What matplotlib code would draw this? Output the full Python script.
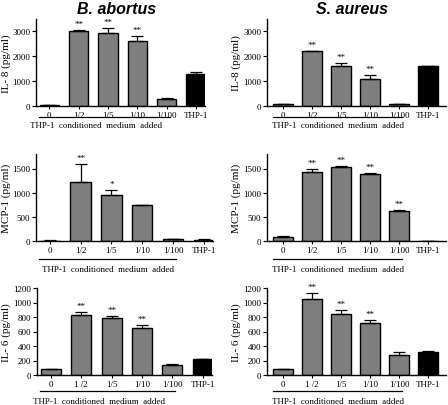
import matplotlib
matplotlib.use("Agg")
import matplotlib.pyplot as plt
import numpy as np

plt.rcParams['font.family'] = ['Liberation Serif', 'DejaVu Serif']

categories = ["0", "1/2", "1/5", "1/10", "1/100", "THP-1"]
cat_bottom = ["0", "1 /2", "1/5", "1/10", "1/100", "THP-1"]

# B. abortus
ba_il8 = [50, 3000, 2920, 2620, 290, 1300]
ba_il8_err = [10, 70, 220, 200, 50, 80]
ba_il8_sig = ["", "**", "**", "**", "", ""]

ba_mcp1 = [10, 1230, 950, 740, 40, 30]
ba_mcp1_err = [5, 370, 110, 10, 5, 5]
ba_mcp1_sig = ["", "**", "*", "", "", ""]

ba_il6 = [80, 830, 790, 645, 140, 220]
ba_il6_err = [5, 45, 30, 40, 5, 5]
ba_il6_sig = ["", "**", "**", "**", "", ""]

# S. aureus
sa_il8 = [70, 2200, 1620, 1100, 80, 1600]
sa_il8_err = [10, 20, 100, 150, 10, 20]
sa_il8_sig = ["", "**", "**", "**", "", ""]

sa_mcp1 = [80, 1430, 1540, 1390, 630, 0]
sa_mcp1_err = [20, 50, 10, 20, 10, 0]
sa_mcp1_sig = ["", "**", "**", "**", "**", ""]

sa_il6 = [80, 1050, 840, 720, 270, 320]
sa_il6_err = [5, 80, 60, 35, 50, 5]
sa_il6_sig = ["", "**", "**", "**", "", ""]

W, H = 448, 406
fig = plt.figure(figsize=(W / 100, H / 100), dpi=100)


def rect(l, t, r, b):
    return [l / W, 1 - b / H, (r - l) / W, (b - t) / H]


def panel(r, vals, errs, sigs, ylabel, ylim, yticks, xlim, labels, offs, mid_x, label_x):
    ax = fig.add_axes(rect(*r))
    x = np.arange(len(vals))
    colors = ["#7f7f7f"] * 5 + ["black"]
    ax.bar(x, vals, width=0.66, color=colors, edgecolor="black", linewidth=1.0, zorder=2)
    lower = np.zeros(len(errs))
    ax.errorbar(x, vals, yerr=[lower, errs], fmt="none", ecolor="black",
                elinewidth=0.9, capsize=4, capthick=0.9, zorder=3)
    for xi, v, e, s in zip(x, vals, errs, sigs):
        if s:
            ax.annotate(s, (xi, v + e), xytext=(0, 1.5), textcoords="offset points",
                        ha="center", va="bottom", fontsize=6.5)
    ax.set_xlim(*xlim)
    ax.set_ylim(*ylim)
    ax.set_yticks(yticks)
    ax.set_xticks(x)
    ax.set_xticklabels(labels, fontsize=6.5)
    ax.tick_params(axis="y", labelsize=6.5, length=3, width=0.8, pad=1)
    ax.tick_params(axis="x", length=2.5, width=0.8, pad=1)
    for s in ["top", "right"]:
        ax.spines[s].set_visible(False)
    for s in ["left", "bottom"]:
        ax.spines[s].set_linewidth(1.0)
    ax.set_ylabel(ylabel, fontsize=8)
    wpx = r[2] - r[0]
    ax.yaxis.set_label_coords((label_x - r[0]) / wpx, 0.5)
    hpx = r[3] - r[1]
    trans = matplotlib.transforms.blended_transform_factory(ax.transData, ax.transAxes)
    ax.plot([-0.35, 4.1], [-offs[0] / hpx] * 2, color="black", lw=0.9,
            transform=trans, clip_on=False)
    ax.text(mid_x, -offs[1] / hpx, "THP-1  conditioned  medium  added", transform=trans,
            ha="center", va="center", fontsize=6.5)
    return ax


xl_left = (-0.45, 5.3)
xl_right = (-0.55, 5.62)

panel((36, 20, 205, 107), ba_il8, ba_il8_err, ba_il8_sig, "IL- 8 (pg/ml)",
      (0, 3500), [0, 1000, 2000, 3000], xl_left, categories, (11, 19), 1.6, 11)
panel((267, 20, 446, 107), sa_il8, sa_il8_err, sa_il8_sig, "IL-8 (pg/ml)",
      (0, 3500), [0, 1000, 2000, 3000], xl_right, categories, (11, 19), 1.9, 241)
panel((36, 155, 213, 242), ba_mcp1, ba_mcp1_err, ba_mcp1_sig, "MCP-1 (pg/ml)",
      (0, 1800), [0, 500, 1000, 1500], xl_left, categories, (18, 28), 1.9, 11)
panel((267, 155, 446, 242), sa_mcp1, sa_mcp1_err, sa_mcp1_sig, "MCP-1 (pg/ml)",
      (0, 1800), [0, 500, 1000, 1500], xl_right, categories, (18, 28), 1.9, 241)
panel((37, 289, 212, 376), ba_il6, ba_il6_err, ba_il6_sig, "IL- 6 (pg/ml)",
      (0, 1200), [0, 200, 400, 600, 800, 1000, 1200], xl_left, cat_bottom, (16, 26), 1.6, 11)
panel((267, 289, 446, 376), sa_il6, sa_il6_err, sa_il6_sig, "IL- 6 (pg/ml)",
      (0, 1200), [0, 200, 400, 600, 800, 1000, 1200], xl_right, cat_bottom, (16, 26), 1.9, 241)

fig.text(117 / W, 1 - 10 / H, "B. abortus", ha="center", va="center", fontsize=11.5,
         fontweight="bold", fontstyle="italic", family=["Liberation Sans", "DejaVu Sans"])
fig.text(352 / W, 1 - 10 / H, "S. aureus", ha="center", va="center", fontsize=11.5,
         fontweight="bold", fontstyle="italic", family=["Liberation Sans", "DejaVu Sans"])

fig.savefig("out.png", dpi=100)
